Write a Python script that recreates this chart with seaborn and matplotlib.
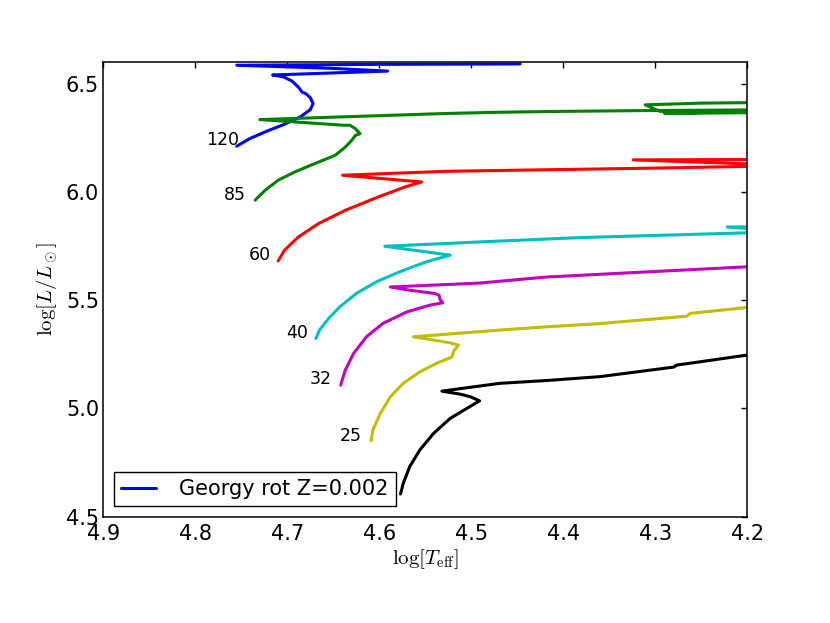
import numpy as np
import pandas as pd
import matplotlib
matplotlib.use("Agg")
import matplotlib.pyplot as plt
import seaborn as sns

# ---- data (log Teff, log L) ----
m120_teff = [4.755, 4.741, 4.722, 4.704, 4.686, 4.675, 4.672, 4.675, 4.680, 4.684, 4.688, 4.695, 4.704, 4.716, 4.591, 4.654, 4.755, 4.600, 4.447]
m120_logl = [6.211, 6.246, 6.281, 6.311, 6.346, 6.380, 6.408, 6.435, 6.454, 6.461, 6.484, 6.512, 6.531, 6.540, 6.558, 6.571, 6.585, 6.589, 6.591]

m85_teff = [4.735, 4.724, 4.710, 4.692, 4.670, 4.648, 4.637, 4.630, 4.626, 4.621, 4.626, 4.632, 4.639, 4.730, 4.529, 4.469, 4.400, 4.300, 4.150, 4.290, 4.150, 4.295, 4.311, 4.250, 4.150]
m85_logl = [5.962, 6.008, 6.054, 6.092, 6.131, 6.169, 6.207, 6.238, 6.261, 6.269, 6.292, 6.308, 6.308, 6.334, 6.362, 6.368, 6.372, 6.376, 6.380, 6.362, 6.368, 6.372, 6.402, 6.410, 6.414]

m60_teff = [4.710, 4.703, 4.688, 4.666, 4.637, 4.601, 4.572, 4.554, 4.640, 4.529, 4.469, 4.300, 4.150, 4.324, 4.150]
m60_logl = [5.681, 5.731, 5.792, 5.854, 5.915, 5.977, 6.023, 6.046, 6.077, 6.095, 6.099, 6.110, 6.122, 6.148, 6.150]

m40_teff = [4.669, 4.665, 4.655, 4.643, 4.625, 4.603, 4.578, 4.549, 4.523, 4.594, 4.491, 4.382, 4.201, 4.150, 4.222, 4.150]
m40_logl = [5.323, 5.362, 5.416, 5.469, 5.531, 5.585, 5.631, 5.677, 5.708, 5.749, 5.769, 5.789, 5.811, 5.815, 5.838, 5.840]

m32_teff = [4.642, 4.637, 4.628, 4.614, 4.596, 4.570, 4.545, 4.531, 4.534, 4.535, 4.540, 4.567, 4.588, 4.491, 4.418, 4.201, 4.150]
m32_logl = [5.108, 5.177, 5.254, 5.331, 5.393, 5.446, 5.477, 5.488, 5.503, 5.523, 5.531, 5.546, 5.561, 5.579, 5.607, 5.654, 5.660]

m25_teff = [4.609, 4.607, 4.599, 4.588, 4.574, 4.556, 4.538, 4.521, 4.520, 4.519, 4.514, 4.523, 4.563, 4.469, 4.418, 4.360, 4.266, 4.262, 4.201, 4.150]
m25_logl = [4.851, 4.900, 4.977, 5.054, 5.116, 5.169, 5.208, 5.238, 5.254, 5.266, 5.292, 5.303, 5.331, 5.362, 5.377, 5.392, 5.426, 5.439, 5.466, 5.475]

m20_teff = [4.577, 4.574, 4.567, 4.556, 4.541, 4.523, 4.505, 4.491, 4.501, 4.512, 4.532, 4.469, 4.418, 4.360, 4.280, 4.277, 4.201, 4.150]
m20_logl = [4.605, 4.654, 4.731, 4.808, 4.885, 4.954, 5.000, 5.035, 5.054, 5.066, 5.080, 5.116, 5.129, 5.147, 5.191, 5.200, 5.246, 5.260]

mass_labels = ["120", "85", "60", "40", "32", "25"]
label_teff = [4.752, 4.745, 4.718, 4.678, 4.652, 4.619]
label_logl = [6.238, 5.984, 5.708, 5.348, 5.135, 4.875]

legend_label = "Georgy rot Z=0.002"
xticks = [4.9, 4.8, 4.7, 4.6, 4.5, 4.4, 4.3, 4.2]
yticks = [4.5, 5.0, 5.5, 6.0, 6.5]

# ---- style ----
sns.set_style("white")
plt.rcParams['font.family'] = ['DejaVu Sans']
plt.rcParams['mathtext.fontset'] = 'cm'
plt.rcParams['text.color'] = 'black'
plt.rcParams['axes.labelcolor'] = 'black'

fig = plt.figure(figsize=(8.3, 6.23), dpi=100)
ax = fig.add_axes([0.1245, 0.1706, 0.7759, 0.7299])

tracks = [
    (m120_teff, m120_logl, (0, 0, 1)),
    (m85_teff, m85_logl, (0, 0.5, 0)),
    (m60_teff, m60_logl, (1, 0, 0)),
    (m40_teff, m40_logl, (0, 0.75, 0.75)),
    (m32_teff, m32_logl, (0.75, 0, 0.75)),
    (m25_teff, m25_logl, (0.75, 0.75, 0)),
    (m20_teff, m20_logl, (0, 0, 0)),
]
for i, (t, l, c) in enumerate(tracks):
    df = pd.DataFrame({"teff": t, "logl": l})
    sns.lineplot(data=df, x="teff", y="logl", sort=False, estimator=None,
                 color=c, lw=2.2, ax=ax,
                 label=legend_label if i == 0 else None)
for line in ax.get_lines():
    line.set_solid_joinstyle('round')
    line.set_solid_capstyle('round')

for txt, tx, ly in zip(mass_labels, label_teff, label_logl):
    ax.text(tx, ly, txt, ha='right', va='center', fontsize=12.5, color='black')

ax.set_xlim(4.9, 4.2)
ax.set_ylim(4.5, 6.6)
ax.set_xticks(xticks)
ax.set_yticks(yticks)
ax.set_xticklabels([f"{v:.1f}" for v in xticks])
ax.set_yticklabels([f"{v:.1f}" for v in yticks])
ax.tick_params(direction='in', length=4.3, width=1, top=True, right=True,
               labelsize=15, colors='black')
ax.tick_params(axis='x', pad=5.5)
ax.tick_params(axis='y', pad=3)
for s in ax.spines.values():
    s.set_color('black')
    s.set_linewidth(1.1)

ax.set_xlabel(r'$\log[T_{\rm eff}]$', fontsize=15, labelpad=2)
ax.set_ylabel(r'$\log[L/L_\odot]$', fontsize=15)

leg = ax.legend(loc='lower left', fontsize=15, frameon=True, fancybox=False,
                borderaxespad=0.5, borderpad=0.35, handlelength=1.7,
                handletextpad=1.1)
leg.get_frame().set_edgecolor('black')
leg.get_frame().set_linewidth(1.0)
leg.get_frame().set_alpha(1)

fig.savefig("out.png", dpi=100)
